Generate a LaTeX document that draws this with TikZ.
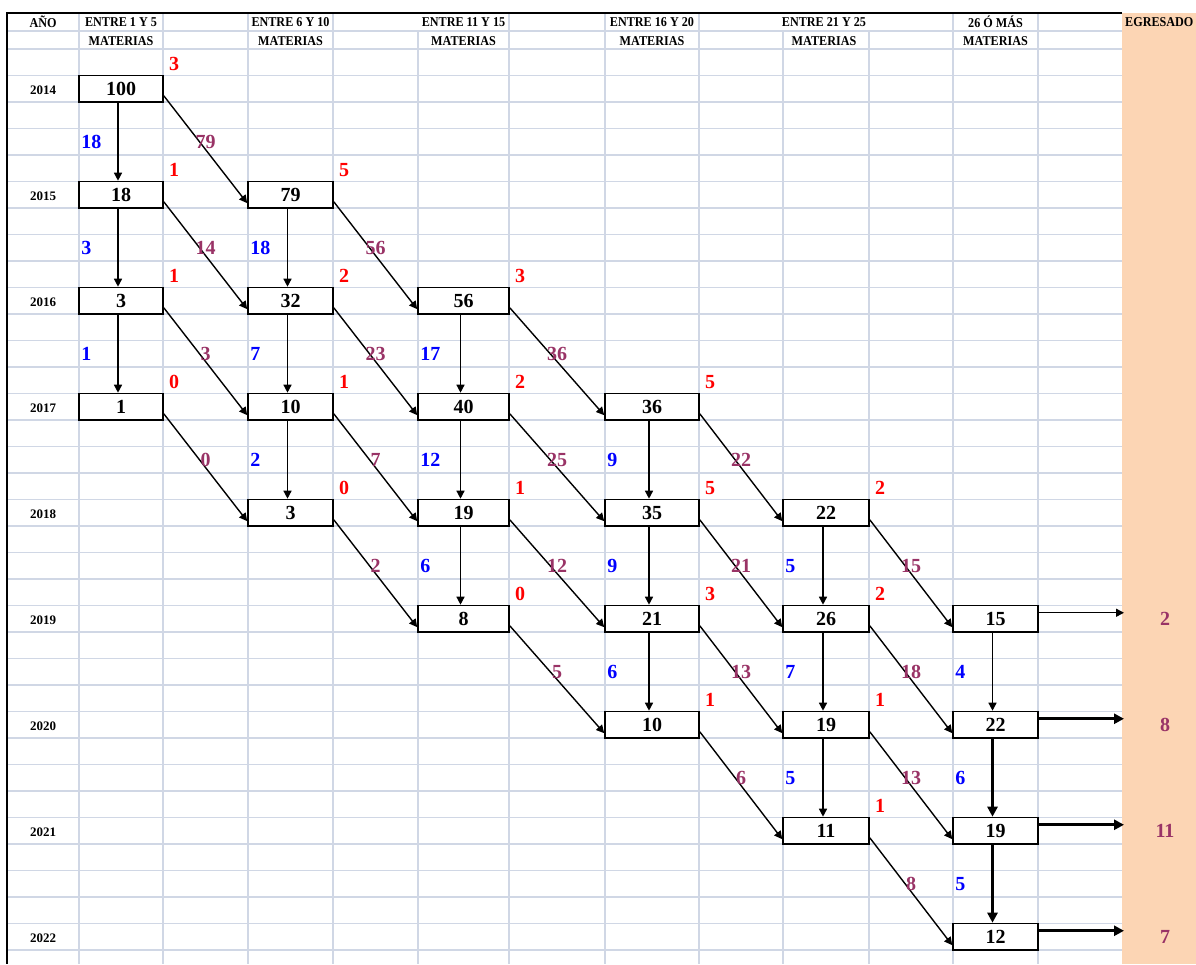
\documentclass[tikz,border=0pt]{standalone}
\usepackage{fontspec}
\setmainfont{Liberation Serif}
\usetikzlibrary{arrows.meta,calc,positioning}
\definecolor{gridc}{HTML}{D0D7E5}
\definecolor{egrc}{HTML}{FCD5B4}
\definecolor{plum}{HTML}{993366}

\begin{document}
\begin{tikzpicture}
  [x=1pt,y=-1pt,
  cell/.style={draw,fill=white,line width=1.6pt,minimum height=26.5pt,inner sep=0pt,
    font=\fontsize{20}{20}\selectfont\bfseries},
  hdr/.style={font=\fontsize{13.5}{13.5}\selectfont\bfseries\addfontfeature{FakeStretch=0.9},inner sep=0pt},
  yr/.style={font=\fontsize{13}{13}\selectfont\bfseries,inner sep=0pt},
  num/.style={font=\fontsize{20}{20}\selectfont\bfseries,inner sep=1pt},
  redn/.style={num,red,anchor=south west,xshift=4pt,yshift=3pt},
  bluen/.style={num,blue,anchor=west,xshift=2pt},
  plumn/.style={num,plum},
  flow/.style={line width=1.4pt,-{Triangle[length=8pt,width=8pt]}},
  bigflow/.style={line width=2.8pt,-{Triangle[length=10pt,width=10pt]}},
  gridln/.style={gridc,line width=1.4pt}]
  \useasboundingbox (0,0) rectangle (1196,964);
  % hoja
  \foreach \k in {0,...,34}
    \draw[gridln] (7,{49+26.5*\k}) -- (1122,{49+26.5*\k});
  \draw[gridln] (7,31) -- (1122,31);
  \foreach \x in {79,163,248,333,418,509,605,699,783,869,953,1038}
    \draw[gridln] (\x,31) -- (\x,964);
  \foreach \x in {79,163,248,333,509,605,699,953,1038}
    \draw[gridln] (\x,13) -- (\x,31);
  \fill[egrc] (1122,13) rectangle (1196,964);
  \draw[line width=1.3pt] (1122,13) -- (7,13) -- (7,964);
  % encabezados
  \node[hdr] (ano) at (43,22) {AÑO};
  \foreach \n/\x/\t in {h1/121/ENTRE 1 Y 5,h2/290.5/ENTRE 6 Y 10,h3/463.5/ENTRE 11 Y 15,
    h4/652/ENTRE 16 Y 20,h5/824/ENTRE 21 Y 25,h6/995.5/26 Ó MÁS}
  {
    \node[hdr] (\n) at (\x,22) {\t};
    \node[hdr] (m\n) at (\x,41) {MATERIAS};
  }
  \node[hdr,anchor=west] (egr) at (1125,22) {EGRESADO};
  \foreach \yr in {14,...,22}
    \node[yr] (y\yr) at (43,{90+106*(\yr-14)}) {20\yr};
  % cajas
  \foreach \g/\x/\w/\items in {
    a/121/84/{14/100,15/18,16/3,17/1},
    b/290.5/85/{15/79,16/32,17/10,18/3},
    c/463.5/91/{16/56,17/40,18/19,19/8},
    d/652/94/{17/36,18/35,19/21,20/10},
    e/826/86/{18/22,19/26,20/19,21/11},
    f/995.5/85/{19/15,20/22,21/19,22/12}}
    \foreach \yr/\v in \items
      \node[cell,minimum width=\w pt] (\g\yr) at (\x,{88.75+106*(\yr-14)}) {\v};
  \foreach \b/\n in {a14/3,a15/1,a16/1,a17/0,b15/5,b16/2,b17/1,b18/0,
    c16/3,c17/2,c18/1,c19/0,d17/5,d18/5,d19/3,d20/1,e18/2,e19/2,e20/1,e21/1}
    \node[redn] (r\b) at (\b.north east) {\n};
  % flujos
  \foreach \s/\t/\n/\st in {a14/a15/18/flow,a15/a16/3/flow,a16/a17/1/flow,
    b15/b16/18/flow,b16/b17/7/flow,b17/b18/2/flow,
    c16/c17/17/flow,c17/c18/12/flow,c18/c19/6/flow,
    d17/d18/9/flow,d18/d19/9/flow,d19/d20/6/flow,
    e18/e19/5/flow,e19/e20/7/flow,e20/e21/5/flow,
    f19/f20/4/flow,f20/f21/6/bigflow,f21/f22/5/bigflow}
  {
    \draw[\st] ([xshift=-3pt]\s.south) -- ([xshift=-3pt]\t.north);
    \node[bluen] (v\t) at ($(\s.south west)!.5!(\t.north west)$) {\n};
  }
  \foreach \s/\t/\n in {a14/b15/79,a15/b16/14,a16/b17/3,a17/b18/0,
    b15/c16/56,b16/c17/23,b17/c18/7,b18/c19/2,
    c16/d17/36,c17/d18/25,c18/d19/12,c19/d20/5,
    d17/e18/22,d18/e19/21,d19/e20/13,d20/e21/6,
    e18/f19/15,e19/f20/18,e20/f21/13,e21/f22/8}
  {
    \draw[flow] ($(\s.east)!.5!(\s.south east)$) -- ($(\t.west)!.6!(\t.south west)$);
    \node[plumn] (p\t) at ($(\s.east)!.5!(\t.west)$) {\n};
  }
  \coordinate (edge) at (1124,0);
  \coordinate (egx) at (1165,0);
  \foreach \b/\n/\st in {f19/2/flow,f20/8/bigflow,f21/11/bigflow,f22/7/bigflow}
  {
    \draw[\st] ([yshift=6pt]\b.east) -- ([yshift=6pt]edge |- \b.east);
    \node[plumn] (e\b) at (egx |- \b) {\n};
  }
\end{tikzpicture}
\end{document}
